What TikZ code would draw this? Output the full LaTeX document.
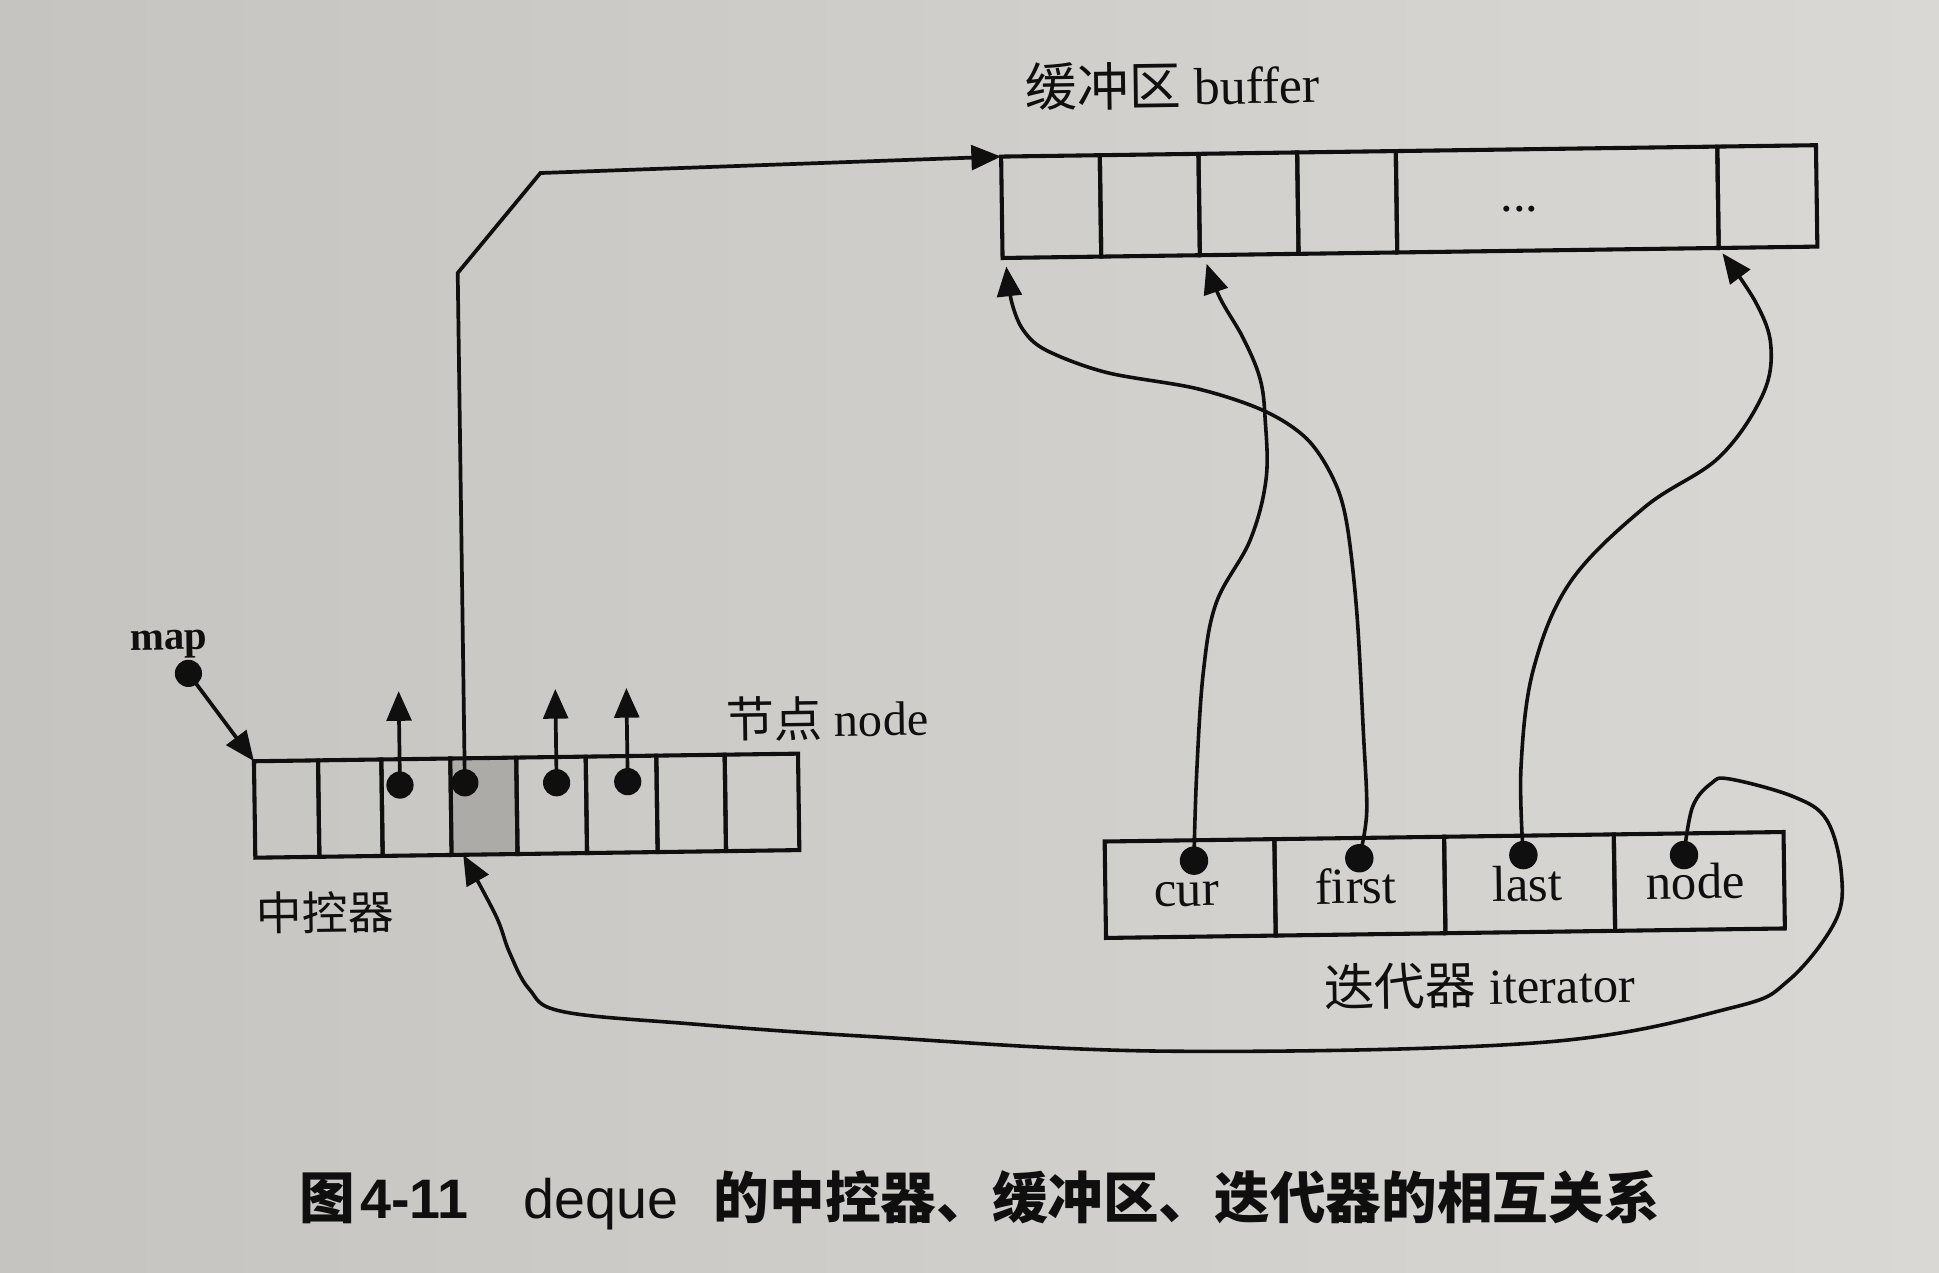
\documentclass[tikz,border=0pt]{standalone}
\usepackage{fontspec}
\setmainfont{Liberation Serif}
\newfontfamily\cjk{Noto Sans CJK SC}
\newfontfamily\capsans{Liberation Sans}
\usetikzlibrary{arrows.meta}
\definecolor{paperL}{RGB}{198,196,192}
\definecolor{paperR}{RGB}{218,216,212}
\definecolor{ink}{RGB}{15,15,15}
\definecolor{hatch}{RGB}{172,171,167}
\begin{document}
\begin{tikzpicture}[x=1pt,y=-1pt,
  cell/.style={draw=ink, line width=3.3pt, inner sep=0pt, outer sep=0pt},
  bcell/.style={cell, minimum height=82pt},
  mcell/.style={cell, minimum height=78pt},
  icell/.style={cell, minimum height=78pt, minimum width=137.25pt},
  dot/.style={circle, fill=ink, inner sep=0pt, minimum size=22pt},
  idot/.style={circle, fill=ink, inner sep=0pt, minimum size=23pt},
  arr/.style={draw=ink, line width=3pt, -{Triangle[length=24pt,width=20pt]}},
  curve/.style={arr, line width=2.9pt, line join=round},
  lbl/.style={inner sep=0pt, text=ink, font=\fontsize{41pt}{48pt}\selectfont},
  captxt/.style={anchor=base west, inner sep=0pt, text=ink}
]
\useasboundingbox (0,0) rectangle (1568,1029);
\shade[left color=paperL, right color=paperR] (0,0) rectangle (1568,1029);

\begin{scope}[rotate around={0.8:(784,515)}, transform shape]
% ---- buffer ----
\node[bcell, minimum width=79.8pt] (b1) at (854.9,168) {};
\node[bcell, minimum width=79.8pt] (b2) at (934.7,168) {};
\node[bcell, minimum width=79.8pt] (b3) at (1014.5,168) {};
\node[bcell, minimum width=79.8pt] (b4) at (1094.3,168) {};
\node[bcell, minimum width=260pt]  (b5) at (1264.2,168) {};
\node[bcell, minimum width=79.8pt] (b6) at (1434.1,168) {};
\node[lbl, anchor=base] (dots) at (1233.4,177) {...};
\node[lbl, anchor=base west, font=\fontsize{42pt}{48pt}\selectfont] (buflbl) at (835,87) {{\cjk 缓冲区} buffer};

% ---- map ----
\node[mcell, minimum width=51.8pt] (m1) at (229.9,646.5) {};
\node[mcell, minimum width=51.2pt] (m2) at (281.4,646.5) {};
\node[mcell, minimum width=55.8pt] (m3) at (334.9,646.5) {};
\node[mcell, minimum width=53.3pt, fill=hatch] (m4) at (389.45,646.5) {};
\node[mcell, minimum width=56.2pt] (m5) at (444.2,646.5) {};
\node[mcell, minimum width=57.1pt] (m6) at (500.85,646.5) {};
\node[mcell, minimum width=55.3pt] (m7) at (557.05,646.5) {};
\node[mcell, minimum width=59.3pt] (m8) at (614.35,646.5) {};
\node[lbl, anchor=base west, font=\fontsize{39pt}{46pt}\selectfont] (nodelbl) at (586,594) {{\cjk 节点} node};
\node[lbl, anchor=base west, font=\fontsize{37pt}{44pt}\selectfont\cjk] (ctrllbl) at (204,744.7) {中控器};
\node[lbl, anchor=base west, font=\fontsize{33pt}{40pt}\selectfont\bfseries] (maplbl) at (105,516.5) {map};

\node[dot] (mdot) at (152,535.7) {};
\node[dot] (d3) at (321.8,628.4) {};
\node[dot] (d4) at (374.3,627.3) {};
\node[dot] (d5) at (448.5,628.3) {};
\node[dot] (d6) at (506,628.2) {};
\coordinate (u3) at (321.8,552.5);
\coordinate (u5) at (448.5,552.5);
\coordinate (u6) at (506,552.5);
\coordinate (k1) at (374.3,215);
\coordinate (k2) at (442.3,135.1);

% ---- iterator ----
\node[icell] (i1) at (959.6,721) {};
\node[icell] (i2) at (1096.9,721) {};
\node[icell] (i3) at (1234.1,721) {};
\node[icell] (i4) at (1371.4,721) {};
\node[lbl, anchor=base] (tcur) at (956.5,735) {cur};
\node[lbl, anchor=base] (tfirst) at (1093.4,735) {first};
\node[lbl, anchor=base] (tlast) at (1232,735) {last};
\node[lbl, anchor=base] (tnode) at (1368.3,735) {node};
\node[idot] (dc) at (963,698.5) {};
\node[idot] (df) at (1096.7,698.4) {};
\node[idot] (dl) at (1229.4,697.7) {};
\node[idot] (dn) at (1359.3,699.5) {};
\node[lbl, anchor=base west] (itlbl) at (1066.5,817.8) {{\cjk 迭代器} iterator};

\coordinate (tipF) at (818,216);
\coordinate (tipC) at (980,216);
\coordinate (tipL) at (1397.3,213.4);
\coordinate (tipM) at (372.2,685.7);

% ---- connectors ----
\draw[arr] (mdot.center) -- (m1.north west);
\draw[arr] (d3.center) -- (u3);
\draw[arr] (d5.center) -- (u5);
\draw[arr] (d6.center) -- (u6);
\draw[arr, line join=miter] (d4.center) -- (k1) -- (k2) -- (b1.north west);

\draw[curve] plot[smooth, tension=0.55] coordinates {(df.center) (1103.2,661.3) (1101.4,596.4) (1097.4,498.8) (1090.3,427.3) (1080,391.4) (1058.9,358.6) (1024.2,335.3) (970.5,316.8) (897.9,302.8) (849.6,284.3) (831,267.7) (821.9,244.9) (tipF)};
\draw[curve] plot[smooth, tension=0.6] coordinates {(dc.center) (966.2,627) (972.7,545.9) (984,490) (1012,440) (1025.6,390.7) (1025.5,341.9) (1021.8,309.4) (1008.8,276.8) (990.4,243.9) (tipC)};
\draw[curve] plot[smooth, tension=0.6] coordinates {(dl.center) (1228.5,626.4) (1239.6,547.6) (1270.6,477.2) (1331.5,417.7) (1391.9,378.5) (1427.8,328.9) (1435.3,289.1) (1423.8,253.9) (tipL)};
\draw[curve] plot[smooth, tension=0.6] coordinates {(dn.center) (1366.8,660.5) (1382.2,641.8) (1397,638.5) (1448.4,653.5) (1475.1,672.8) (1486.3,715.9) (1480.8,754.8) (1442.1,802.3) (1395.8,823.6) (1240.4,849.5) (937.3,852.2) (695.4,836.8) (555.6,824.9) (450.8,813.4) (424,794.9) (408.4,764.8) (397.8,735) (tipM)};
\end{scope}

% ---- caption ----
\node[captxt, font=\fontsize{45pt}{50pt}\selectfont\cjk\bfseries] (cap1) at (242,985) {图};
\node[captxt, font=\fontsize{45pt}{50pt}\selectfont\capsans\bfseries] (cap2) at (291,985) {4-11};
\node[captxt, font=\fontsize{45pt}{50pt}\selectfont\capsans] (cap3) at (423,985) {deque};
\node[captxt, font=\fontsize{45pt}{50pt}\selectfont\cjk\bfseries] (cap4) at (577,985) {的中控器、缓冲区、迭代器的相互关系};
\end{tikzpicture}
\end{document}
